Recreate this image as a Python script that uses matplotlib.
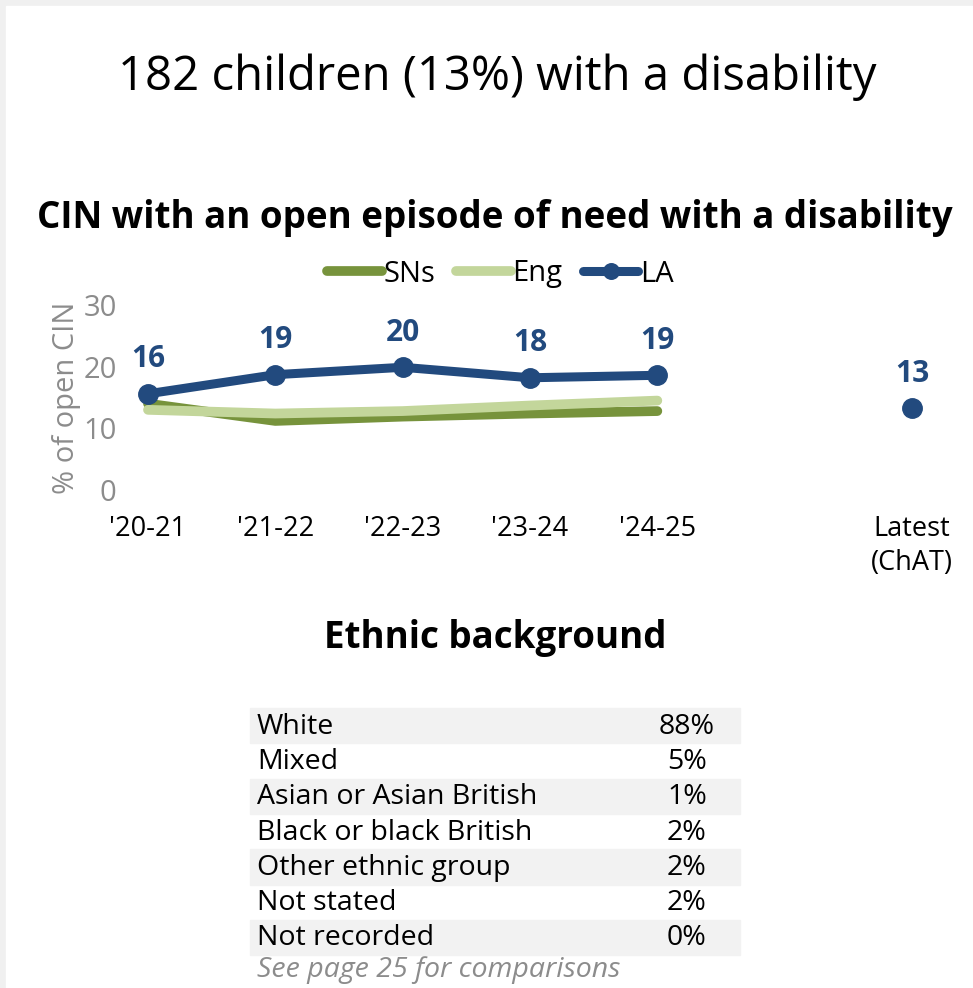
import matplotlib
matplotlib.use("Agg")
from matplotlib import pyplot as plt
from matplotlib.patches import Rectangle

plt.rcParams['font.family'] = ['Open Sans', 'DejaVu Sans']

years = ["'20-21", "'21-22", "'22-23", "'23-24", "'24-25"]
sns_vals = [14.0, 11.2, 11.9, 12.4, 12.8]
eng_vals = [13.0, 12.4, 12.8, 13.7, 14.5]
la_vals = [15.6, 18.7, 19.9, 18.2, 18.6]
la_labels = ["16", "19", "20", "18", "19"]
latest_val = 13.3
latest_label = "13"

ethnic_groups = ["White", "Mixed", "Asian or Asian British", "Black or black British",
                 "Other ethnic group", "Not stated", "Not recorded"]
ethnic_pct = ["88%", "5%", "1%", "2%", "2%", "2%", "0%"]

LA_BLUE = "#224A7E"
SN_GREEN = "#77933C"
ENG_GREEN = "#C3D69B"
GREY = "#8C8C8C"

W, H = 973, 988
fig = plt.figure(figsize=(W / 100, H / 100), dpi=100)

# light grey frame at top/left
fig.patches.append(Rectangle((0, 0), 1, 1, transform=fig.transFigure, color="#F0F0F0", zorder=-10))
fig.patches.append(Rectangle((6 / W, 0), 1, 1 - 6 / H, transform=fig.transFigure, color="white", zorder=-9))

fig.text(497 / W, 1 - 77 / H, "182 children (13%) with a disability", ha="center", va="center", fontsize=34)
fig.text(495 / W, 1 - 218 / H, "CIN with an open episode of need with a disability",
         ha="center", va="center", fontsize=26.5, fontweight="bold")

# chart axes: x=0 at px 148, x=6 at px 912; y=0 at px 490, y=30 at px 305
px_per_x = (912 - 148) / 6
left_px, right_px = 125, 960
ax = fig.add_axes([left_px / W, 1 - 490 / H, (right_px - left_px) / W, 185 / H])
ax.set_xlim((left_px - 148) / px_per_x, (right_px - 148) / px_per_x)
ax.set_ylim(0, 30)

xs = list(range(len(years)))
ax.plot(xs, sns_vals, color=SN_GREEN, lw=7, solid_capstyle="round", label="SNs", zorder=2)
ax.plot(xs, eng_vals, color=ENG_GREEN, lw=7, solid_capstyle="round", label="Eng", zorder=3)
ax.plot(xs, la_vals, color=LA_BLUE, lw=6.5, marker="o", markersize=14, solid_capstyle="round",
        label="LA", zorder=4)
latest_x = len(years) + 1
ax.plot([latest_x], [latest_val], color=LA_BLUE, marker="o", markersize=14, ls="none", zorder=4)

for x, v, lab in zip(xs, la_vals, la_labels):
    ax.annotate(lab, (x, v), xytext=(0, 14), textcoords="offset points", ha="center", va="bottom",
                color=LA_BLUE, fontsize=21.5, fontweight="bold", annotation_clip=False)
ax.annotate(latest_label, (latest_x, latest_val), xytext=(0, 14), textcoords="offset points",
            ha="center", va="bottom", color=LA_BLUE, fontsize=21.5, fontweight="bold",
            annotation_clip=False)

ax.set_xticks(xs + [latest_x])
ax.set_xticklabels(years + ["Latest\n(ChAT)"], fontsize=19.5, color="black", va="top",
                   linespacing=1.3)
ax.set_yticks([0, 10, 20, 30])
ax.tick_params(axis="y", length=0, pad=6, labelsize=21, labelcolor=GREY)
ax.tick_params(axis="x", length=0, pad=18)
ax.set_ylabel("% of open CIN", fontsize=21, color=GREY, labelpad=2)
for s in ax.spines.values():
    s.set_visible(False)

fig.legend(loc="center", bbox_to_anchor=(500 / W, 1 - 274 / H), ncol=3, frameon=False,
           fontsize=21, handlelength=1.9, handletextpad=0.05, columnspacing=0.7,
           borderpad=0, markerscale=0.8)

fig.text(495 / W, 1 - 638 / H, "Ethnic background", ha="center", va="center",
         fontsize=26.5, fontweight="bold")

# ethnic table
top_px, row_h = 708, 35.3
for i, (grp, pct) in enumerate(zip(ethnic_groups, ethnic_pct)):
    y0 = top_px + i * row_h
    if i % 2 == 0:
        fig.patches.append(Rectangle((250 / W, 1 - (y0 + row_h) / H), 490 / W, row_h / H,
                                     transform=fig.transFigure, color="#F2F2F2", zorder=0))
    yc = 1 - (y0 + row_h / 2 + 1) / H
    fig.text(257 / W, yc, grp, ha="left", va="center", fontsize=20.5)
    fig.text(687 / W, yc, pct, ha="center", va="center", fontsize=20.5)

fig.text(257 / W, 1 - 970 / H, "See page 25 for comparisons", ha="left", va="center",
         fontsize=20.5, style="italic", color=GREY)

fig.savefig("out.png", dpi=100)
